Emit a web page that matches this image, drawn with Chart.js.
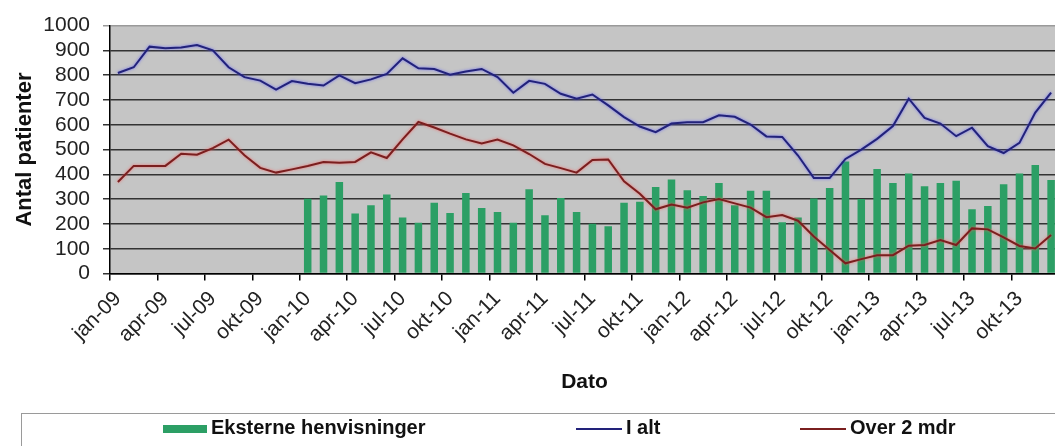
<!DOCTYPE html>
<html>
<head>
<meta charset="utf-8">
<script src="https://cdn.jsdelivr.net/npm/chart.js@4/dist/chart.umd.min.js"></script>
<style>
  body { margin: 0; overflow: hidden; background: #fff; font-family: "Liberation Sans", Arial, sans-serif; }
  #wrap { position: relative; width: 1075px; height: 446px; }
  #legend { position: absolute; left: 21px; top: 413px; width: 1100px; height: 45px; border: 1.5px solid #9a9a9a; box-sizing: border-box; }
  .item { position: absolute; top: 1px; font-weight: bold; font-size: 20px; color: #111; line-height: 24px; white-space: nowrap; }
  .sw { display: inline-block; vertical-align: middle; margin-right: 4px; }
</style>
</head>
<body>
<div id="wrap">
  <canvas id="Chart" width="1075" height="446"></canvas>
  <div id="legend"></div>
</div>
<script>
const months = ["jan", "feb", "mar", "apr", "maj", "jun", "jul", "aug", "sep", "okt", "nov", "dec"];
const years = ["09", "10", "11", "12", "13"];

// I alt
const totalValues = [
  809, 832, 915, 909, 912, 922, 900, 832, 792, 778, 742, 776,
  765, 758, 799, 768, 783, 805, 868, 828, 825, 802, 815, 825,
  792, 729, 777, 765, 725, 705, 722, 678, 631, 593, 570, 605,
  610, 610, 638, 632, 601, 553, 551, 476, 385, 385, 462, 500,
  543, 595, 705, 628, 605, 554, 588, 514, 486, 527, 649, 730
];

// Over 2 mdr
const overValues = [
  369, 434, 434, 434, 483, 479, 506, 540, 477, 426, 407, 420,
  434, 450, 447, 450, 489, 466, 541, 611, 589, 564, 541, 525,
  540, 517, 482, 442, 425, 407, 458, 460, 372, 322, 259, 278,
  265, 287, 300, 283, 266, 227, 236, 213, 149, 95, 41, 58,
  74, 74, 112, 115, 135, 115, 182, 178, 146, 111, 101, 155
];

// Eksterne henvisninger (from jan-10)
const referralValues = [
  null, null, null, null, null, null, null, null, null, null, null, null,
  302, 315, 369, 242, 275, 319, 226, 205, 285, 244, 325, 264,
  248, 205, 340, 235, 305, 248, 201, 191, 285, 289, 349, 379,
  336, 313, 365, 275, 334, 334, 207, 226, 303, 345, 452, 301,
  422, 365, 403, 352, 365, 374, 259, 272, 360, 403, 438, 377
];

let labels = [];
years.forEach((y) => {
  months.forEach((m) => labels.push(m + "-" + y));
});

const plotBg = {
  id: "plotBg",
  beforeDraw(chart) {
    const { ctx, chartArea: a } = chart;
    ctx.save();
    ctx.fillStyle = "#c5c5c5";
    ctx.fillRect(a.left, a.top, a.right - a.left, a.bottom - a.top);
    ctx.restore();
  },
};

// soft halo around the lines, like the original jpeg
const halo = {
  id: "halo",
  beforeDatasetDraw(chart, args) {
    const ds = chart.data.datasets[args.index];
    if (!ds.halo) return;
    chart.ctx.save();
    chart.ctx.shadowColor = ds.halo;
    chart.ctx.shadowBlur = 3;
  },
  afterDatasetDraw(chart, args) {
    const ds = chart.data.datasets[args.index];
    if (!ds.halo) return;
    chart.ctx.restore();
  },
};

const ctx = document.getElementById("Chart");

new Chart(ctx, {
  type: "bar",
  data: {
    labels: labels,
    datasets: [
      {
        type: "line",
        label: "I alt",
        data: totalValues,
        borderColor: "#22227a",
        halo: "rgba(90,90,255,0.8)",
        borderWidth: 2,
        pointRadius: 0,
        tension: 0,
        order: 0,
      },
      {
        type: "line",
        label: "Over 2 mdr",
        data: overValues,
        borderColor: "#7a1f1f",
        halo: "rgba(255,90,90,0.8)",
        borderWidth: 2,
        pointRadius: 0,
        tension: 0,
        order: 0,
      },
      {
        label: "Eksterne henvisninger",
        data: referralValues,
        backgroundColor: "#2c9f65",
        categoryPercentage: 0.5,
        barPercentage: 0.95,
        order: 1,
      },
    ],
  },
  options: {
    responsive: false,
    animation: false,
    layout: { padding: { top: 24, right: 11, bottom: 47, left: 0 } },
    plugins: {
      legend: { display: false },
      tooltip: { enabled: false },
    },
    scales: {
      x: {
        offset: true,
        grid: {
          offset: true,
          drawOnChartArea: false,
          drawTicks: true,
          tickLength: 7,
          lineWidth: 1.5,
          color: (c) => (c.index % 3 === 0 ? "#000" : "rgba(0,0,0,0)"),
        },
        border: { display: true, color: "#000", width: 1.5 },
        ticks: {
          autoSkip: false,
          minRotation: 45,
          maxRotation: 45,
          padding: 6,
          color: "#222",
          font: { family: "Liberation Sans", size: 21 },
          callback: function (v, i) {
            return i % 3 === 0 ? this.getLabelForValue(v) : "";
          },
        },
        title: {
          display: true,
          text: "Dato",
          color: "#111",
          font: { family: "Liberation Sans", size: 21, weight: "bold" },
          padding: { top: 4, bottom: 4 },
        },
        afterFit: (s) => {
          s.height = 125.5;
        },
      },
      y: {
        min: 0,
        max: 1000,
        ticks: {
          stepSize: 100,
          autoSkip: false,
          padding: 13,
          color: "#222",
          font: { family: "Liberation Sans", size: 21 },
          callback: (v) => String(v),
        },
        grid: {
          tickLength: 7,
          lineWidth: 1.5,
          color: (c) => (c.tick && c.tick.value === 1000 ? "#9a9a9a" : "#333"),
        },
        border: { color: "#000", width: 1.5 },
        title: {
          display: true,
          text: "Antal patienter",
          color: "#111",
          font: { family: "Liberation Sans", size: 22, weight: "bold" },
          padding: { top: 12, bottom: 0 },
        },
        afterFit: (s) => {
          s.width = 110;
        },
      },
    },
  },
  plugins: [plotBg, halo],
});

// legend box like the original, built as plain html
const legendItems = [
  { text: "Eksterne henvisninger", left: 141, kind: "box", color: "#2c9f65" },
  { text: "I alt", left: 554, kind: "line", color: "#22227a" },
  { text: "Over 2 mdr", left: 778, kind: "line", color: "#7a1f1f" },
];
const legend = document.getElementById("legend");
legendItems.forEach((it) => {
  const d = document.createElement("div");
  d.className = "item";
  d.style.left = it.left + "px";
  const sw = document.createElement("span");
  sw.className = "sw";
  if (it.kind === "box") {
    sw.style.width = "44px";
    sw.style.height = "8px";
    sw.style.background = it.color;
  } else {
    sw.style.width = "46px";
    sw.style.height = "2px";
    sw.style.background = it.color;
  }
  d.appendChild(sw);
  d.appendChild(document.createTextNode(it.text));
  legend.appendChild(d);
});
</script>
</body>
</html>
